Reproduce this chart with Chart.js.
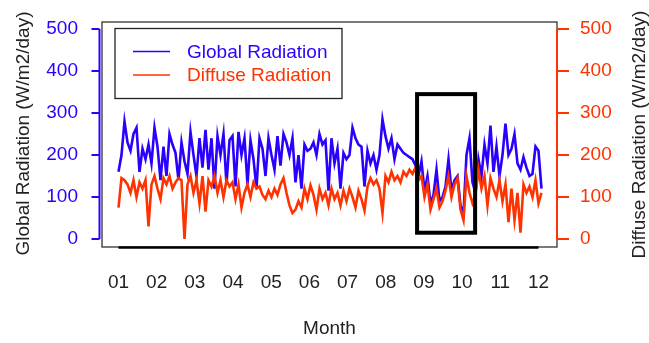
<!DOCTYPE html>
<html>
<head>
<meta charset="utf-8">
<script src="https://cdn.jsdelivr.net/npm/chart.js@4"></script>
<style>
  body { margin: 0; background: #fff; }
</style>
</head>
<body>
<canvas id="radiation" width="649" height="343"></canvas>
<script>
const monthLabels = ['01', '02', '03', '04', '05', '06', '07', '08', '09', '10', '11', '12']
const monthTicks = [1, 2, 3, 4, 5, 6, 7, 8, 9, 10, 11, 12]
const radiationTicks = [0, 100, 200, 300, 400, 500]

// one reading every ~2.4 days, from the start of 01 to just past 12
const firstMonth = 1
const monthStep = 11 / 140

const globalRadiation = [
  160, 200, 280, 230, 210, 250, 265, 160, 215, 190, 225, 180, 265, 220, 140, 220,
  150, 250, 225, 205, 140, 230, 185, 155, 255, 200, 150, 240, 170, 260, 165, 240,
  120, 245, 200, 250, 130, 235, 245, 125, 255, 200, 240, 130, 235, 190, 120, 240,
  215, 150, 240, 200, 165, 245, 175, 250, 230, 200, 240, 135, 200, 120, 225, 210,
  215, 230, 200, 250, 225, 235, 115, 240, 180, 215, 120, 205, 190, 200, 265, 240,
  225, 220, 125, 210, 180, 200, 165, 200, 285, 245, 215, 240, 190, 225, 215, 205,
  200, 195, 190, 175, 150, 185, 115, 150, 85, 105, 165, 90, 100, 125, 190, 115,
  140, 150, 80, 60, 200, 240, 135, 110, 190, 150, 225, 180, 270, 160, 220, 150,
  200, 275, 200, 215, 250, 180, 165, 195, 170, 150, 155, 220, 210, 120
]

const diffuseRadiation = [
  75, 145, 140, 130, 110, 140, 100, 135, 120, 140, 30, 130, 150, 120, 95, 145,
  130, 150, 120, 135, 145, 140, 0, 130, 150, 110, 140, 85, 150, 65, 140, 125,
  150, 110, 140, 100, 140, 125, 135, 95, 130, 75, 110, 130, 100, 135, 120, 125,
  105, 95, 115, 100, 120, 105, 130, 145, 110, 80, 62, 70, 90, 75, 120, 95,
  128, 105, 70, 120, 95, 110, 80, 120, 95, 110, 80, 115, 90, 120, 100, 75,
  115, 95, 68, 125, 145, 130, 140, 120, 62, 150, 135, 160, 140, 150, 135, 160,
  150, 165, 155, 170, 140, 150, 100, 130, 70, 95, 120, 75, 90, 115, 150, 100,
  130, 145, 70, 45, 150, 110, 85, 105, 165, 120, 150, 80, 145, 120, 100, 140,
  90, 130, 40, 120, 45, 110, 15, 130, 110, 125, 100, 140, 85, 110
]

// the boxed period (months) and its vertical extent (W/m2/day)
const highlightMonths = [8.82, 10.34]
const highlightValues = [15, 345]

const blue = '#2a00ff'
const red = '#ff3300'
const fontFamily = '"Liberation Sans", Arial, sans-serif'

function toPoints(values) {
  return values.map((v, i) => ({ x: firstMonth + i * monthStep, y: v }))
}

function fixWidth(w) {
  return s => {
    s.width = w
    s.paddingTop = 0
    s.paddingBottom = 0
  }
}

const decor = {
  id: 'decor',
  afterDraw(chart) {
    const ctx = chart.ctx
    const a = chart.chartArea
    const x = chart.scales.x
    const y = chart.scales.y
    const y2 = chart.scales.y2
    ctx.save()

    // frame
    ctx.strokeStyle = '#333'
    ctx.lineWidth = 1.3
    ctx.strokeRect(a.left, a.top, a.right - a.left, a.bottom - a.top)

    // bottom axis line
    ctx.strokeStyle = '#000'
    ctx.lineWidth = 2.5
    ctx.beginPath()
    ctx.moveTo(x.getPixelForValue(monthTicks[0]), a.bottom + 0.5)
    ctx.lineTo(x.getPixelForValue(monthTicks[monthTicks.length - 1]), a.bottom + 0.5)
    ctx.stroke()

    // left axis
    const lx = a.left - 2.5
    ctx.strokeStyle = blue
    ctx.lineWidth = 2
    ctx.beginPath()
    ctx.moveTo(lx, y.getPixelForValue(radiationTicks[0]))
    ctx.lineTo(lx, y.getPixelForValue(radiationTicks[radiationTicks.length - 1]))
    radiationTicks.forEach(v => {
      ctx.moveTo(lx, y.getPixelForValue(v))
      ctx.lineTo(lx - 8, y.getPixelForValue(v))
    })
    ctx.stroke()

    // right axis
    const rx = a.right
    ctx.strokeStyle = red
    ctx.beginPath()
    ctx.moveTo(rx, y2.getPixelForValue(radiationTicks[0]))
    ctx.lineTo(rx, y2.getPixelForValue(radiationTicks[radiationTicks.length - 1]))
    radiationTicks.forEach(v => {
      ctx.moveTo(rx, y2.getPixelForValue(v))
      ctx.lineTo(rx + 12, y2.getPixelForValue(v))
    })
    ctx.stroke()

    // highlighted period
    ctx.strokeStyle = '#000'
    ctx.lineWidth = 4
    const hx0 = x.getPixelForValue(highlightMonths[0])
    const hx1 = x.getPixelForValue(highlightMonths[1])
    const hy0 = y.getPixelForValue(highlightValues[1])
    const hy1 = y.getPixelForValue(highlightValues[0])
    ctx.strokeRect(hx0, hy0, hx1 - hx0, hy1 - hy0)

    // legend
    const bx = a.left + 13
    const by = a.top + 6.5
    ctx.fillStyle = '#fff'
    ctx.fillRect(bx, by, 227, 70)
    ctx.strokeStyle = '#222'
    ctx.lineWidth = 1.3
    ctx.strokeRect(bx, by, 227, 70)
    ctx.font = '19px ' + fontFamily
    ctx.textBaseline = 'middle'
    ctx.textAlign = 'left'
    chart.data.datasets.forEach((ds, i) => {
      const ly = by + 23 + i * 23.5
      ctx.strokeStyle = ds.borderColor
      ctx.lineWidth = 1.5
      ctx.beginPath()
      ctx.moveTo(bx + 18, ly)
      ctx.lineTo(bx + 55, ly)
      ctx.stroke()
      ctx.fillStyle = ds.borderColor
      ctx.fillText(ds.label, bx + 72, ly + 1)
    })

    // axis titles
    ctx.fillStyle = '#222'
    ctx.textAlign = 'center'
    ctx.fillText('Month', (a.left + a.right) / 2, 329)
    const midY = (a.top + a.bottom) / 2
    ctx.translate(24, midY - 1)
    ctx.rotate(-Math.PI / 2)
    ctx.fillText('Global Radiation (W/m2/day)', 0, 0)
    ctx.rotate(Math.PI / 2)
    ctx.translate(640 - 24, 1)
    ctx.rotate(-Math.PI / 2)
    ctx.fillText('Diffuse Radiation (W/m2/day)', 0, 0)
    ctx.restore()
  }
}

const ctx = document.getElementById('radiation')

new Chart(ctx, {
  type: 'line',
  data: {
    datasets: [{
      label: 'Global Radiation',
      data: toPoints(globalRadiation),
      borderColor: blue,
      borderWidth: 2.6,
      pointRadius: 0,
      tension: 0,
      yAxisID: 'y',
      order: 2
    }, {
      label: 'Diffuse Radiation',
      data: toPoints(diffuseRadiation),
      borderColor: red,
      borderWidth: 2.6,
      pointRadius: 0,
      tension: 0,
      yAxisID: 'y2',
      order: 1
    }]
  },
  options: {
    responsive: false,
    animation: false,
    devicePixelRatio: 1,
    layout: { padding: { top: 22, left: 0, right: 0, bottom: 0 } },
    plugins: {
      legend: { display: false },
      tooltip: { enabled: false }
    },
    scales: {
      x: {
        type: 'linear',
        min: 0.568,
        max: 12.485,
        afterBuildTicks: s => { s.ticks = monthTicks.map(v => ({ value: v })) },
        afterFit: s => {
          s.height = 96
          s.paddingLeft = 0
          s.paddingRight = 0
        },
        grid: { display: false, drawTicks: false },
        border: { display: false },
        ticks: {
          autoSkip: false,
          maxRotation: 0,
          padding: 24,
          color: '#222',
          font: { size: 19, family: fontFamily },
          callback: (v, i) => monthLabels[i]
        }
      },
      y: {
        position: 'left',
        min: -19,
        max: 516.7,
        afterBuildTicks: s => { s.ticks = radiationTicks.map(v => ({ value: v })) },
        afterFit: fixWidth(102),
        grid: { display: false, drawTicks: false },
        border: { display: false },
        ticks: { padding: 24, color: blue, font: { size: 19, family: fontFamily } }
      },
      y2: {
        position: 'right',
        min: -19,
        max: 516.7,
        afterBuildTicks: s => { s.ticks = radiationTicks.map(v => ({ value: v })) },
        afterFit: fixWidth(92),
        grid: { display: false, drawTicks: false },
        border: { display: false },
        ticks: { padding: 23, color: red, font: { size: 19, family: fontFamily } }
      }
    }
  },
  plugins: [decor]
})
</script>
</body>
</html>
